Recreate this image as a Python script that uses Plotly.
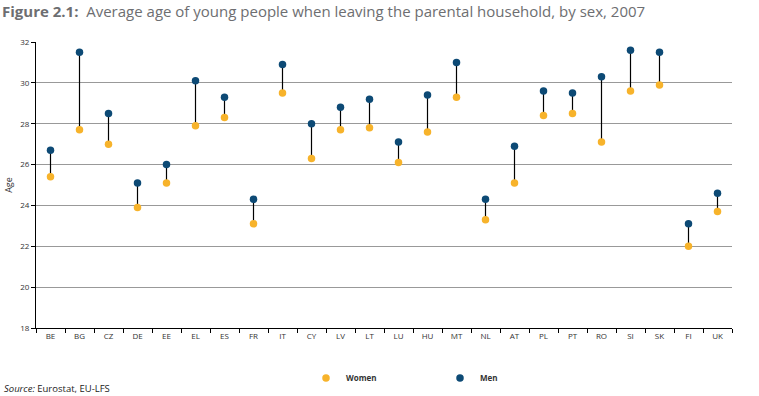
import plotly.graph_objects as go

countries = ["BE","BG","CZ","DE","EE","EL","ES","FR","IT","CY","LV","LT","LU",
             "HU","MT","NL","AT","PL","PT","RO","SI","SK","FI","UK"]
women = [25.4,27.7,27.0,23.9,25.1,27.9,28.3,23.1,29.5,26.3,27.7,27.8,26.1,
         27.6,29.3,23.3,25.1,28.4,28.5,27.1,29.6,29.9,22.0,23.7]
men = [26.7,31.5,28.5,25.1,26.0,30.1,29.3,24.3,30.9,28.0,28.8,29.2,27.1,
       29.4,31.0,24.3,26.9,29.6,29.5,30.3,31.6,31.5,23.1,24.6]
y_ticks = [18,20,22,24,26,28,30,32]

WOMEN_C = "#f7b32b"
MEN_C = "#0d4a75"

lx, ly = [], []
for c, w, m in zip(countries, women, men):
    lx += [c, c, None]
    ly += [w, m, None]

W, H = 759, 396

fig = go.Figure()
fig.add_trace(go.Scatter(x=lx, y=ly, mode="lines", line=dict(color="#000000", width=1.2),
                         showlegend=False, hoverinfo="skip"))
fig.add_trace(go.Scatter(x=countries, y=women, mode="markers", name="<b>Women</b>",
                         marker=dict(color=WOMEN_C, size=7.5)))
fig.add_trace(go.Scatter(x=countries, y=men, mode="markers", name="<b>Men</b>",
                         marker=dict(color=MEN_C, size=7.5)))

fig.update_layout(
    width=W, height=H,
    margin=dict(l=36, r=27, t=42, b=68, autoexpand=False),
    paper_bgcolor="white", plot_bgcolor="white",
    font=dict(family="Open Sans", size=8, color="#333333"),
    xaxis=dict(type="category", categoryorder="array", categoryarray=countries,
               showgrid=False, showline=True, linecolor="#000000", linewidth=1,
               ticks="outside", tickson="boundaries", ticklen=4, tickcolor="#000000",
               tickfont=dict(size=8, color="#333333"), range=[-0.5, len(countries)-0.5],
               automargin=False),
    yaxis=dict(range=[18, 32], tickvals=y_ticks, showgrid=True, gridcolor="#999999",
               gridwidth=1, showline=True, linecolor="#000000", linewidth=1,
               ticks="outside", ticklen=4, tickcolor="#000000",
               tickfont=dict(size=8, color="#333333"), zeroline=False, automargin=False,
               title=dict(text="Age", font=dict(size=9, color="#333333"), standoff=6)),
    legend=dict(orientation="h", xref="container", yref="container",
                x=306/W, xanchor="left", y=1-378/H, yanchor="middle",
                entrywidth=89, entrywidthmode="pixels",
                font=dict(size=8, color="#333333"), itemwidth=30),
    showlegend=True,
)

fig.add_annotation(xref="paper", yref="paper", x=-36/696, y=1+31/286, xanchor="left", yanchor="middle",
                   text="<b>Figure 2.1:</b>  Average age of young people when leaving the parental household, by sex, 2007",
                   showarrow=False, font=dict(size=15, color="#6d6e71", family="Open Sans"))
fig.add_annotation(xref="paper", yref="paper", x=-34/696, y=-60/286, xanchor="left", yanchor="middle",
                   text="<i>Source:</i> Eurostat, EU-LFS",
                   showarrow=False, font=dict(size=9.5, color="#222222", family="Open Sans"))

fig.write_html("out.html", config={"displayModeBar": False},
               post_script="document.body.style.margin='0';")
